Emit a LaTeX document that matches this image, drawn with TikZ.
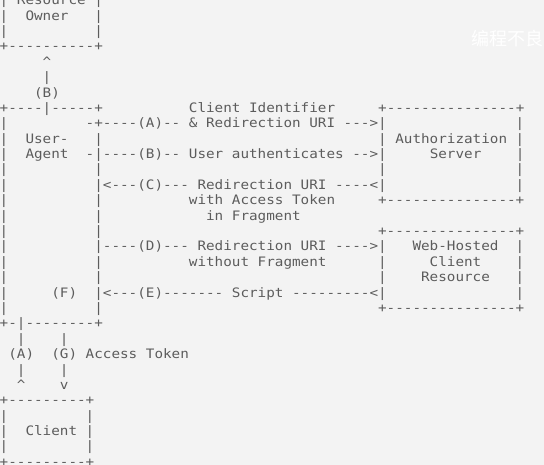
\documentclass[tikz,border=0pt]{standalone}
\usepackage{fontspec}
\setmonofont{DejaVu Sans Mono}
\newfontfamily\cjkwm{Noto Sans CJK SC}
\definecolor{bgc}{RGB}{243,243,243}
\definecolor{txt}{RGB}{92,92,92}
\newcommand\asciifont{\ttfamily\fontsize{13}{15}\selectfont}
\tikzset{asc/.style={inner sep=0pt, outer sep=0pt, anchor=base west, xscale=1.099, text=txt, font=\asciifont}}
% row #1, column #2, text #3
\newcommand\R[3]{\node[asc] (r#1c#2) at ({-0.3+#2*8.6},{-(112.4+(#1-8)*15.39)}) {#3};}
\begin{document}
\begin{tikzpicture}[x=1pt,y=1pt]
\fill[bgc] (0,0) rectangle (544,-465);
\useasboundingbox (0,0) rectangle (544,-465);
\node[text=white, font=\cjkwm\fontsize{18}{18}\selectfont, inner sep=0pt] (wm) at (507,-39) {编程不良};
% Resource Owner
\R{0}{0}{+----------+}
\R{1}{0}{|~Resource~|}
\R{2}{0}{|~~Owner~~~|}
\R{3}{0}{|}\R{3}{11}{|}
\R{4}{0}{+----------+}
\R{5}{5}{\textasciicircum}
\R{6}{5}{|}
\R{7}{4}{(B)}
% User-Agent and servers
\R{8}{0}{+----|-----+~~~~~~~~~~Client~Identifier~~~~~+---------------+}
\R{9}{0}{|~~~~~~~~~-+----(A)--~\&~Redirection~URI~--->|}\R{9}{60}{|}
\R{10}{0}{|~~User-~~~|}\R{10}{44}{|~Authorization~|}
\R{11}{0}{|~~Agent~~-|----(B)--~User~authenticates~-->|~~~~~Server~~~~|}
\R{12}{0}{|}\R{12}{11}{|}\R{12}{44}{|}\R{12}{60}{|}
\R{13}{0}{|}\R{13}{11}{|<---(C)---~Redirection~URI~----<|}\R{13}{60}{|}
\R{14}{0}{|}\R{14}{11}{|}\R{14}{22}{with~Access~Token}\R{14}{44}{+---------------+}
\R{15}{0}{|}\R{15}{11}{|}\R{15}{24}{in~Fragment}
\R{16}{0}{|}\R{16}{11}{|}\R{16}{44}{+---------------+}
\R{17}{0}{|}\R{17}{11}{|----(D)---~Redirection~URI~---->|~~~Web-Hosted~~|}
\R{18}{0}{|}\R{18}{11}{|}\R{18}{22}{without~Fragment}\R{18}{44}{|~~~~~Client~~~~|}
\R{19}{0}{|}\R{19}{11}{|}\R{19}{44}{|~~~~Resource~~~|}
\R{20}{0}{|~~~~~(F)~~|<---(E)-------~Script~---------<|}\R{20}{60}{|}
\R{21}{0}{|}\R{21}{11}{|}\R{21}{44}{+---------------+}
\R{22}{0}{+-|--------+}
% links to Client
\R{23}{2}{|}\R{23}{7}{|}
\R{24}{1}{(A)~~(G)~Access~Token}
\R{25}{2}{|}\R{25}{7}{|}
\R{26}{2}{\textasciicircum}\R{26}{7}{v}
% Client
\R{27}{0}{+---------+}
\R{28}{0}{|}\R{28}{10}{|}
\R{29}{0}{|~~Client~|}
\R{30}{0}{|}\R{30}{10}{|}
\R{31}{0}{+---------+}
\end{tikzpicture}
\end{document}
